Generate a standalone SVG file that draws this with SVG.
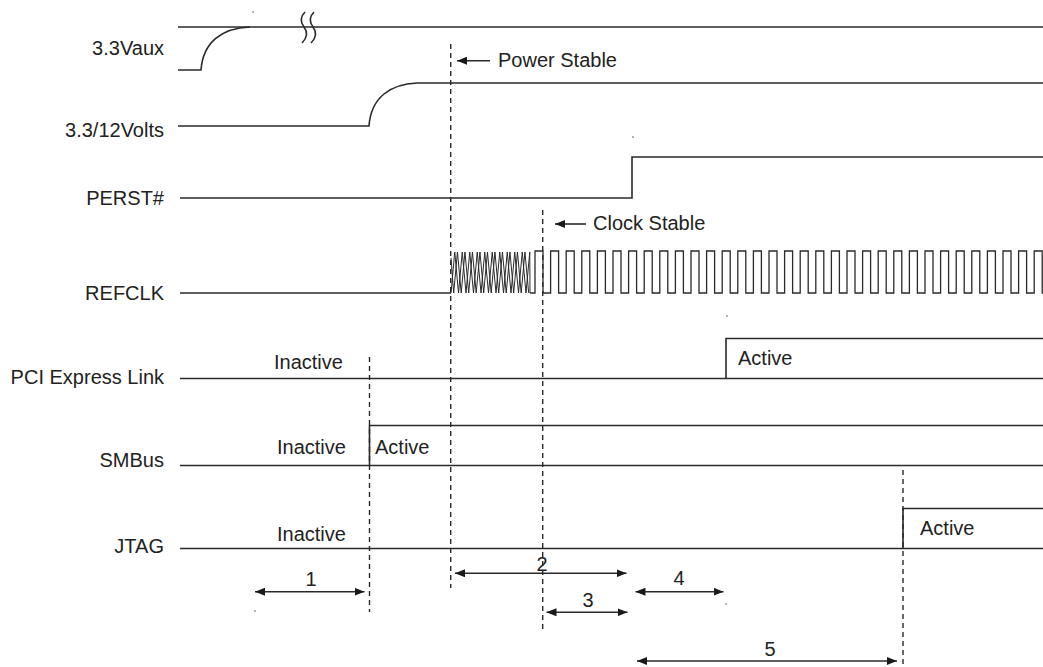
<svg xmlns="http://www.w3.org/2000/svg" width="1043" height="667" viewBox="0 0 1043 667">
<style>
.sig{fill:none;stroke:#2a2a2a;stroke-width:1.6}
.clk{fill:none;stroke:#2a2a2a;stroke-width:1.3}
.zig{fill:none;stroke:#2a2a2a;stroke-width:1}
.dash{fill:none;stroke:#2a2a2a;stroke-width:1.4;stroke-dasharray:5,4}
.arr{fill:none;stroke:#2a2a2a;stroke-width:1.6;marker-start:url(#ah);marker-end:url(#ah)}
.arr1{fill:none;stroke:#2a2a2a;stroke-width:1.6;marker-end:url(#ah)}
text{font-family:"Liberation Sans",Arial,sans-serif;font-size:20px;fill:#222}
.lbl{text-anchor:end}
.num{text-anchor:middle}
.speck{fill:#999}
</style>
<defs>
<marker id="ah" viewBox="0 0 10 8" refX="10" refY="4" markerWidth="10" markerHeight="8" markerUnits="userSpaceOnUse" orient="auto-start-reverse">
<path d="M0,0 L10,4 L0,8 z" fill="#1a1a1a"/>
</marker>
</defs>
<rect width="1043" height="667" fill="#fff"/>

<g id="vaux">
<text class="lbl" x="164" y="55">3.3Vaux</text>
<path class="sig" d="M178,27 H1043"/>
<path class="sig" d="M178,70 H201 C203,42 222,28 250,27"/>
<path class="sig" d="M305,12 Q298,19 304,27 Q310,35 302,43"/>
<path class="sig" d="M314,12 Q307,19 313,27 Q319,35 311,43"/>
</g>

<g id="volts">
<text class="lbl" x="164" y="137">3.3/12Volts</text>
<path class="sig" d="M178,126 H369 C371,97 391,84 417,83 H1043"/>
</g>

<g id="perst">
<text class="lbl" x="164" y="205">PERST#</text>
<path class="sig" d="M180,198 H632 V157 H1043"/>
</g>

<g id="refclk">
<text class="lbl" x="164" y="300">REFCLK</text>
<path class="sig" d="M180,293 H451"/>
<path class="zig" d="M451,293 l3.75,-41 l3.75,41 l3.75,-41 l3.75,41 l3.75,-41 l3.75,41 l3.75,-41 l3.75,41 l3.75,-41 l3.75,41 l3.75,-41 l3.75,41 l3.75,-41 l3.75,41 l3.75,-41 l3.75,41 l3.75,-41 l3.75,41 l3.75,-41 l3.75,41 l3.75,-41 L530,293"/>
<path class="zig" d="M451,258 l2.7,35 l3.75,-41 l3.75,41 l3.75,-41 l3.75,41 l3.75,-41 l3.75,41 l3.75,-41 l3.75,41 l3.75,-41 l3.75,41 l3.75,-41 l3.75,41 l3.75,-41 l3.75,41 l3.75,-41 l3.75,41 l3.75,-41 l3.75,41 l3.75,-41 l3.75,41"/>
<path class="clk" d="M530,293 h5 v-42h8v42h7.6 v-42h8v42h7.6 v-42h8v42h7.6 v-42h8v42h7.6 v-42h8v42h7.6 v-42h8v42h7.6 v-42h8v42h7.6 v-42h8v42h7.6 v-42h8v42h7.6 v-42h8v42h7.6 v-42h8v42h7.6 v-42h8v42h7.6 v-42h8v42h7.6 v-42h8v42h7.6 v-42h8v42h7.6 v-42h8v42h7.6 v-42h8v42h7.6 v-42h8v42h7.6 v-42h8v42h7.6 v-42h8v42h7.6 v-42h8v42h7.6 v-42h8v42h7.6 v-42h8v42h7.6 v-42h8v42h7.6 v-42h8v42h7.6 v-42h8v42h7.6 v-42h8v42h7.6 v-42h8v42h7.6 v-42h8v42h7.6 v-42h8v42h7.6 v-42h8v42h7.6 v-42h8v42h7.6 v-42h8v42h7.6"/>
</g>

<g id="pcie">
<text class="lbl" x="164" y="384">PCI Express Link</text>
<text x="274" y="369">Inactive</text>
<text x="738" y="365">Active</text>
<path class="sig" d="M180,378.5 H1043"/>
<path class="sig" d="M726,378.5 V338.5 H1043"/>
</g>

<g id="smbus">
<text class="lbl" x="164" y="467">SMBus</text>
<text x="277" y="454">Inactive</text>
<text x="375" y="454">Active</text>
<path class="sig" d="M180,465.5 H1043"/>
<path class="sig" d="M369.5,465.5 V425.5 H1043"/>
</g>

<g id="jtag">
<text class="lbl" x="164" y="553">JTAG</text>
<text x="277" y="541">Inactive</text>
<text x="920" y="535">Active</text>
<path class="sig" d="M180,548.5 H1043"/>
<path class="sig" d="M903,548.5 V508.5 H1043"/>
</g>

<g id="connectors">
<path class="dash" d="M450.7,44 V588"/>
<path class="dash" d="M542.7,210 V632"/>
<path class="dash" d="M369.5,357 V612"/>
<path class="dash" d="M903,470 V667"/>

<path class="arr1" d="M490,60.7 H457"/>
<text x="498" y="67">Power Stable</text>
<path class="arr1" d="M586,224 H555"/>
<text x="593" y="230">Clock Stable</text>

<path class="arr" d="M255,591.7 H364.5"/>
<text class="num" x="311" y="586">1</text>
<path class="arr" d="M455,573.3 H626.5"/>
<text class="num" x="542" y="571">2</text>
<path class="arr" d="M546.5,612.3 H627.5"/>
<text class="num" x="588" y="607">3</text>
<path class="arr" d="M635.5,591.7 H723.5"/>
<text class="num" x="679" y="585">4</text>
<path class="arr" d="M637,661 H897"/>
<text class="num" x="770" y="656">5</text>
</g>

<g id="specks">
<circle class="speck" cx="253" cy="12" r="1"/>
<circle class="speck" cx="633" cy="137" r="1"/>
<circle class="speck" cx="727" cy="316" r="1"/>
<circle class="speck" cx="255" cy="611" r="1"/>
<circle class="speck" cx="726" cy="604" r="1"/>
</g>
</svg>
